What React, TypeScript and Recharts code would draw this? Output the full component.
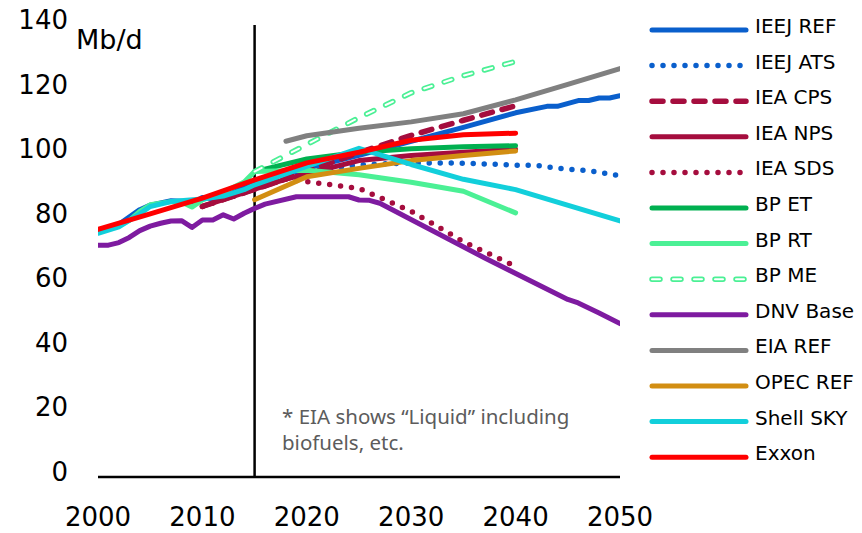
import { LineChart, Line, XAxis, YAxis, ReferenceLine, Legend } from 'recharts';

type Pt = [number, number];
type LineStyle = 'solid' | 'dot' | 'dash' | 'hollow';

const YEAR_TICKS = [2000, 2010, 2020, 2030, 2040, 2050];
const VALUE_TICKS = [0, 20, 40, 60, 80, 100, 120, 140];

// Oil demand outlooks, Mb/d, [year, value]
const IEEJ_REF: Pt[] = [
  [2000, 76.3], [2002, 78.3], [2004, 82.8], [2005, 84.2], [2007, 85.6], [2008, 85.4], [2009, 84.6],
  [2010, 86.6], [2011, 86.2], [2012, 87.4], [2013, 88.4], [2014, 89.6], [2015, 91.6], [2020, 95.6],
  [2025, 99.6], [2030, 104], [2035, 108.3], [2040, 112.8], [2043, 114.8], [2044, 114.8], [2046, 116.6],
  [2047, 116.6], [2048, 117.4], [2049, 117.4], [2050, 118.1],
];
const IEEJ_ATS: Pt[] = [
  [2015, 91.6], [2020, 94.6], [2025, 96.7], [2030, 97.3], [2035, 97.2], [2040, 96.6], [2042, 96.5],
  [2045, 95.3], [2047, 94.9], [2050, 93.3],
];
const IEA_CPS: Pt[] = [[2010, 83.8], [2018, 92.3], [2025, 100.5], [2030, 105.8], [2035, 110.5], [2040, 115]];
const IEA_NPS: Pt[] = [[2010, 83.8], [2018, 92.3], [2025, 98], [2030, 99.6], [2035, 100.6], [2040, 101.5]];
const IEA_SDS: Pt[] = [[2010, 83.8], [2018, 92.3], [2025, 89.4], [2030, 82.3], [2035, 72.9], [2040, 65.2]];
const BP_ET: Pt[] = [[2015, 94.6], [2020, 98.5], [2025, 100.6], [2030, 101.7], [2035, 102.3], [2040, 102.6]];
const BP_RT: Pt[] = [
  [2000, 76.2], [2002, 77.8], [2003, 79.5], [2004, 82.3], [2005, 84.3], [2007, 85.3], [2008, 85.2],
  [2009, 83.6], [2010, 85.8], [2012, 88.2], [2014, 91.4], [2015, 94.6], [2020, 95], [2025, 93.6],
  [2030, 91.3], [2035, 88.5], [2040, 81.8],
];
const BP_ME: Pt[] = [[2015, 94.6], [2020, 103], [2025, 111.3], [2030, 119], [2035, 124.3], [2040, 128.7]];
const DNV_BASE: Pt[] = [
  [2000, 71.8], [2001, 71.8], [2002, 72.6], [2003, 74.2], [2004, 76.3], [2005, 77.7], [2006, 78.6],
  [2007, 79.3], [2008, 79.4], [2009, 77.3], [2010, 79.6], [2011, 79.6], [2012, 81.2], [2013, 79.9],
  [2014, 81.7], [2015, 83.2], [2016, 84.5], [2019, 86.8], [2024, 86.8], [2025, 85.8], [2026, 85.7],
  [2027, 84.8], [2037, 67.9], [2045, 55], [2046, 53.9], [2048, 50.8], [2050, 47.5],
];
const EIA_REF: Pt[] = [
  [2018, 104], [2020, 105.7], [2025, 108], [2030, 110], [2035, 112.5], [2040, 116.8], [2045, 121.6], [2050, 126.5],
];
const OPEC_REF: Pt[] = [[2015, 85.9], [2020, 93], [2025, 95.6], [2030, 98], [2035, 99.6], [2040, 101]];
const SHELL_SKY: Pt[] = [
  [2000, 75.5], [2002, 77.5], [2004, 81.5], [2005, 83.8], [2007, 85.3], [2010, 86.1], [2012, 87],
  [2014, 89], [2015, 90.5], [2020, 96.2], [2025, 101.8], [2030, 96.8], [2035, 92.2], [2040, 89], [2050, 79.3],
];
const EXXON: Pt[] = [
  [2000, 76.7], [2005, 81.5], [2010, 86.4], [2015, 92], [2020, 97.3], [2025, 100.6], [2030, 104.3],
  [2035, 106], [2040, 106.5],
];

const BLUE = '#0a5fcc';
const MAROON = '#a50d3e';
const LIGHT_GREEN = '#4bf095';

const SERIES: { name: string; points: Pt[]; color: string; style: LineStyle }[] = [
  { name: 'IEEJ REF', points: IEEJ_REF, color: BLUE, style: 'solid' },
  { name: 'IEEJ ATS', points: IEEJ_ATS, color: BLUE, style: 'dot' },
  { name: 'IEA CPS', points: IEA_CPS, color: MAROON, style: 'dash' },
  { name: 'IEA NPS', points: IEA_NPS, color: MAROON, style: 'solid' },
  { name: 'IEA SDS', points: IEA_SDS, color: MAROON, style: 'dot' },
  { name: 'BP ET', points: BP_ET, color: '#00b050', style: 'solid' },
  { name: 'BP RT', points: BP_RT, color: LIGHT_GREEN, style: 'solid' },
  { name: 'BP ME', points: BP_ME, color: LIGHT_GREEN, style: 'hollow' },
  { name: 'DNV Base', points: DNV_BASE, color: '#7e1ba0', style: 'solid' },
  { name: 'EIA REF', points: EIA_REF, color: '#808080', style: 'solid' },
  { name: 'OPEC REF', points: OPEC_REF, color: '#d28e12', style: 'solid' },
  { name: 'Shell SKY', points: SHELL_SKY, color: '#12cfdb', style: 'solid' },
  { name: 'Exxon', points: EXXON, color: '#ff0000', style: 'solid' },
];

const FONT = '"DejaVu Sans", Verdana, sans-serif';

const strokeFor = (style: LineStyle) => {
  if (style === 'dot') return { strokeWidth: 5.5, strokeDasharray: '0 11' };
  if (style === 'dash') return { strokeWidth: 5.5, strokeDasharray: '11 10' };
  if (style === 'hollow') return { strokeWidth: 5.5, strokeDasharray: '8 13' };
  return { strokeWidth: 5 };
};

const toRows = (points: Pt[]) => points.map(([year, v]) => ({ year, v }));

const YTick = (p: any) => (
  <text x={68} y={p.y - 5} textAnchor="end" dominantBaseline="central" fontSize={26} fontFamily={FONT} fill="#000">
    {p.payload.value}
  </text>
);

const XTick = (p: any) => (
  <text x={p.x} y={517} textAnchor="middle" dominantBaseline="central" fontSize={26} fontFamily={FONT} fill="#000">
    {p.payload.value}
  </text>
);

// legend drawn by hand so the dash patterns match the series
const LegendBox = () => (
  <svg width={222} height={480}>
    {SERIES.map((s, i) => {
      const y = 30 + i * 35.6;
      return (
        <g key={s.name}>
          <line x1={12} x2={106} y1={y} y2={y} stroke={s.color} strokeLinecap="round" {...strokeFor(s.style)} />
          {s.style === 'hollow' && (
            <line x1={12} x2={106} y1={y} y2={y} stroke="#fff" strokeLinecap="round" strokeWidth={2} strokeDasharray="8 13" />
          )}
          <text x={115} y={y + 3} fontSize={20} fontFamily={FONT} fill="#000">
            {s.name}
          </text>
        </g>
      );
    })}
  </svg>
);

export default function App() {
  return (
    <div style={{ position: 'absolute', left: 0, top: 0, width: 862, height: 533, background: '#fff' }}>
      <LineChart width={862} height={533} margin={{ top: 25, right: 242, bottom: 0, left: 0 }}>
        <XAxis
          type="number"
          dataKey="year"
          domain={[2000, 2050]}
          ticks={YEAR_TICKS}
          allowDataOverflow
          axisLine={{ stroke: '#000', strokeWidth: 2.5 }}
          tickLine={false}
          height={56}
          tick={XTick}
        />
        <YAxis
          type="number"
          domain={[0, 140]}
          ticks={VALUE_TICKS}
          axisLine={false}
          tickLine={false}
          width={98}
          tick={YTick}
        />
        <ReferenceLine x={2015} stroke="#000" strokeWidth={2.5} />
        {SERIES.flatMap((s) => {
          const lines = [
            <Line
              key={s.name}
              name={s.name}
              data={toRows(s.points)}
              dataKey="v"
              type="linear"
              stroke={s.color}
              strokeLinecap="round"
              strokeLinejoin="round"
              dot={false}
              activeDot={false}
              isAnimationActive={false}
              {...strokeFor(s.style)}
            />,
          ];
          if (s.style === 'hollow') {
            lines.push(
              <Line
                key={s.name + '-inner'}
                data={toRows(s.points)}
                dataKey="v"
                type="linear"
                stroke="#fff"
                strokeWidth={2}
                strokeDasharray="8 13"
                strokeLinecap="round"
                dot={false}
                activeDot={false}
                legendType="none"
                isAnimationActive={false}
              />
            );
          }
          return lines;
        })}
        <Legend
          layout="vertical"
          align="center"
          verticalAlign="middle"
          wrapperStyle={{ left: 640, top: 0, width: 222, height: 480 }}
          content={() => <LegendBox />}
        />
      </LineChart>
      <svg width={862} height={533} style={{ position: 'absolute', left: 0, top: 0, pointerEvents: 'none' }}>
        <text x={76} y={49} fontSize={27} fontFamily={FONT} fill="#000">
          Mb/d
        </text>
        <text x={282} y={424} fontSize={20.5} fontFamily='"Noto Sans", sans-serif' fill="#5c5c5c">
          * EIA shows “Liquid” including
        </text>
        <text x={282} y={450} fontSize={20.5} fontFamily='"Noto Sans", sans-serif' fill="#5c5c5c">
          biofuels, etc.
        </text>
      </svg>
    </div>
  );
}
